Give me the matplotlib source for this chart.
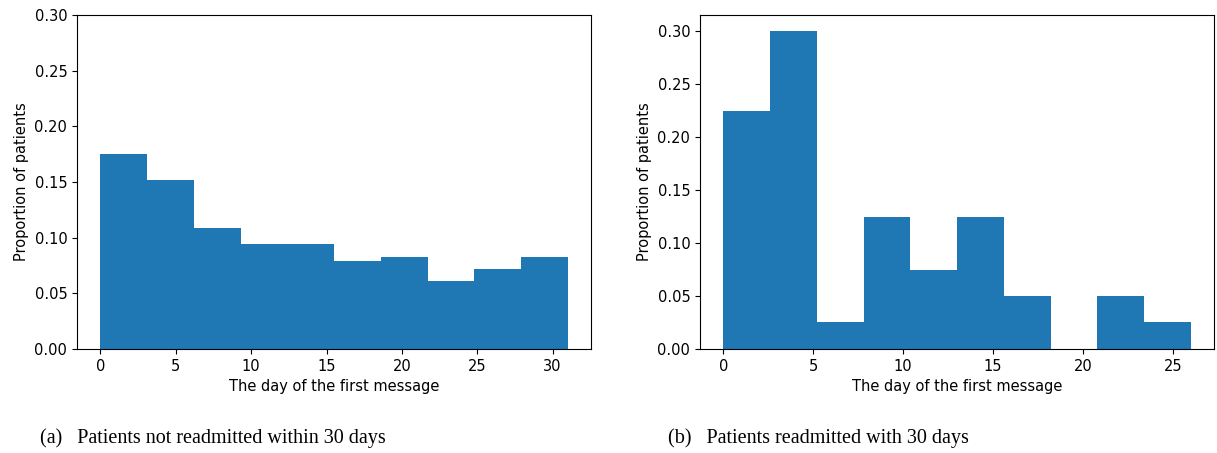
import numpy as np
import matplotlib
matplotlib.use("Agg")
import matplotlib.pyplot as plt

# proportion of patients per bin (10 equal bins)
not_readmitted_max_day = 31
not_readmitted_props = [0.175, 0.152, 0.109, 0.094, 0.094, 0.079, 0.083, 0.061, 0.072, 0.083]

readmitted_max_day = 26
readmitted_props = [0.225, 0.300, 0.025, 0.125, 0.075, 0.125, 0.050, 0.0, 0.050, 0.025]

captions = ["(a)   Patients not readmitted within 30 days",
            "(b)   Patients readmitted with 30 days"]


def draw_hist(ax, max_day, props):
    edges = np.linspace(0, max_day, len(props) + 1)
    centers = (edges[:-1] + edges[1:]) / 2
    ax.hist(centers, bins=edges, weights=props, color="#1f77b4")
    ax.set_xlabel("The day of the first message", fontsize=10.5)
    ax.set_ylabel("Proportion of patients", fontsize=10.5)
    ax.tick_params(labelsize=10.5)


fig = plt.figure(figsize=(12.17, 4.53), dpi=100)
ax1 = fig.add_axes([0.0633, 0.2296, 0.4224, 0.737])
ax2 = fig.add_axes([0.5752, 0.2296, 0.4224, 0.737])

draw_hist(ax1, not_readmitted_max_day, not_readmitted_props)
ax1.set_ylim(0, 0.30)
draw_hist(ax2, readmitted_max_day, readmitted_props)

fig.text(0.033, 0.022, captions[0], family="Liberation Serif", fontsize=14.5)
fig.text(0.549, 0.022, captions[1], family="Liberation Serif", fontsize=14.5)

fig.savefig("out.png", dpi=100)
